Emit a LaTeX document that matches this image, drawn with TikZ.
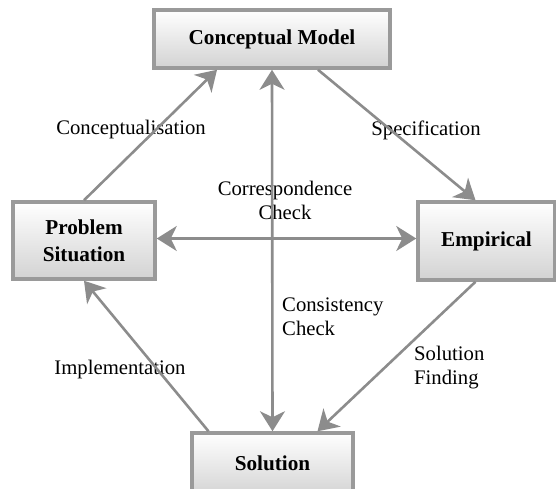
\documentclass[tikz,border=0pt]{standalone}
\usepackage{fontspec}
\setmainfont{Liberation Serif}
\usepackage{tikz}
\usetikzlibrary{arrows.meta}
\usetikzlibrary{positioning}
\definecolor{edgegray}{HTML}{8C8C8C}
\definecolor{boxgray}{HTML}{9A9A9A}
\tikzset{
  x = 1pt, y = -1pt,
  link/.style = {draw = edgegray, line width = 2.6pt,
    -{Stealth[length = 20pt, width = 25pt, inset = 6pt]}},
  twoway/.style = {link, {Stealth[length = 20pt, width = 25pt, inset = 6pt]}-{Stealth[length = 20pt, width = 25pt, inset = 6pt]}},
  box/.style = {rectangle, draw = boxgray, line width = 3.5pt, align = center,
    top color = white, bottom color = gray!35, inner sep = 2pt,
    font = \fontsize{21.2}{27}\selectfont\bfseries},
  tag/.style = {font = \fontsize{20.7}{24}\selectfont, inner sep = 1pt},
}

\begin{document}
\begin{tikzpicture}
  \useasboundingbox (0,0) rectangle (556,488);
  % nodes
  \node [box, minimum width = 236pt, minimum height = 58pt] (model) at (272,39) {Conceptual Model};
  \node [box, minimum width = 142pt, minimum height = 77pt] (problem) at (84,240.5) {Problem\\Situation};
  \node [box, minimum width = 137pt, minimum height = 78pt] (empirical) at (486.5,241) {Empirical};
  \node [box, minimum width = 161pt, minimum height = 64pt, text depth = 0pt] (solution) at (272.5,465) {\raisebox{4pt}{Solution}};
  % labels
  \node [tag] (conceptualisation) at (131,130) {Conceptualisation};
  \node [tag] (specification) at (426,130) {Specification};
  \node [tag, align = center] (correspondence) at (285,200) {Correspondence\\Check};
  \node [tag, align = left, anchor = west] (consistency) at (281,317) {Consistency\\Check};
  \node [tag, align = left, anchor = west] (finding) at (413,368) {Solution\\Finding};
  \node [tag] (implementation) at (120,370) {Implementation};
  % edges
  \draw [link] (problem.north) -- ([xshift = -55pt]model.south);
  \draw [link] ([xshift = 46pt]model.south) -- ([xshift = -11pt]empirical.north);
  \draw [link] ([xshift = -11pt]empirical.south) -- ([xshift = 45pt]solution.north);
  \draw [link] ([xshift = -64pt]solution.north) -- (problem.south);
  \draw [twoway] (model.south) -- (solution.north);
  \draw [twoway] ([yshift = 2pt]problem.east) -- ([yshift = 2pt]problem.east -| empirical.west);
\end{tikzpicture}
\end{document}
